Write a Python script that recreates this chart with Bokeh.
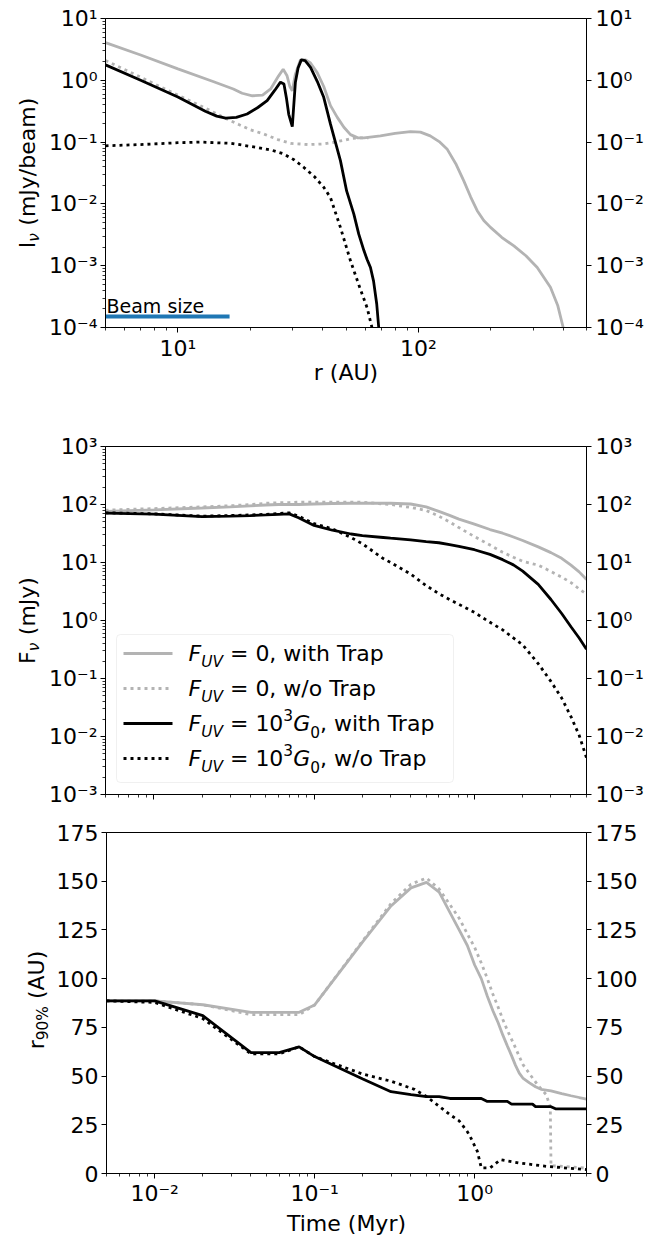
import numpy as np
from bokeh.plotting import figure
from bokeh.models import (Range1d, FixedTicker, LogAxis, LinearAxis, Label, BoxAnnotation,
                          CustomJSTickFormatter)
from bokeh.layouts import column, row
from bokeh.embed import file_html
from bokeh.resources import INLINE

FONT = "DejaVu Sans"
GRAY = "#b3b3b3"
BLUE = "#1f77b4"
LW = 2.8
DOT = "3 4"
NB = "\u00a0"

# ---------------- Panel 1: intensity profiles (r in AU, I in mJy/beam) ----------------
r_f0_trap = [5, 7, 10, 14, 17, 18.5, 20.4, 22.5, 24.3, 26.2, 27.4, 28.4, 29.2, 29.9, 30.8,
             32.3, 34.0, 35.6, 38.0, 40.4, 43.1, 46, 49, 52.2, 56, 59.4, 69.5, 80, 92.7, 102,
             112, 122, 131.5, 143, 154.6, 165, 175.6, 187, 199.5, 222, 249.5, 280, 312, 354,
             380, 400, 420]
I_f0_trap = [4.07, 2.57, 1.53, 0.955, 0.724, 0.617, 0.562, 0.575, 0.724, 1.17, 1.51, 1.20,
             0.794, 0.676, 1.26, 2.14, 2.14, 1.91, 1.32, 0.794, 0.389, 0.251, 0.174, 0.132,
             0.117, 0.117, 0.126, 0.138, 0.148, 0.145, 0.126, 0.102, 0.0776, 0.0447, 0.0234,
             0.0129, 0.00776, 0.00537, 0.00417, 0.00288, 0.00209, 0.00145, 0.000933,
             0.000447, 0.000224, 0.0001, 0.00004]

r_f0_notrap = [5, 7, 10, 13, 15.5, 18, 20, 22.8, 26, 29.4, 35, 40.4, 45, 49, 53, 58, 62]
I_f0_notrap = [2.09, 1.12, 0.575, 0.355, 0.251, 0.191, 0.158, 0.135, 0.110, 0.0955, 0.0912,
               0.0933, 0.1, 0.107, 0.115, 0.117, 0.117]

r_fuv_trap = [5, 7, 10, 13, 14.5, 15.8, 17.5, 19.4, 21.5, 23.5, 25.3, 26.7, 27.6, 28.3, 28.9,
              29.9, 30.8, 31.6, 32.6, 33.8, 35.6, 38, 40.4, 43.1, 47.4, 50.3, 53.9, 56.5,
              59.4, 61.2, 63.2, 65.1, 67.1, 68.4, 70]
I_fuv_trap = [1.78, 1.0, 0.537, 0.316, 0.263, 0.245, 0.251, 0.285, 0.363, 0.468, 0.692,
              0.933, 0.871, 0.501, 0.282, 0.178, 0.933, 1.585, 2.14, 2.09, 1.62, 0.955,
              0.531, 0.195, 0.0501, 0.0162, 0.00684, 0.00324, 0.00174, 0.00126, 0.000933,
              0.000562, 0.00024, 0.0001, 0.0000316]

r_fuv_notrap = [5, 7, 10, 12.4, 16.6, 21.4, 24.5, 27.5, 30.5, 33.4, 37, 40.4, 43.1, 47.4,
                52.2, 57, 61.2, 64.1, 66]
I_fuv_notrap = [0.0871, 0.0912, 0.0977, 0.1, 0.0955, 0.082, 0.0741, 0.0646, 0.0513, 0.0389,
                0.0275, 0.0186, 0.0126, 0.00417, 0.0012, 0.000447, 0.000209, 0.0001, 0.00005]

beam_r = [5.0, 16.4]
beam_I = [1.5e-4, 1.5e-4]

# ---------------- Panel 2: flux vs time (Myr, mJy) ----------------
t_flux = [0.005, 0.01, 0.02, 0.03, 0.04, 0.05, 0.06, 0.07, 0.08, 0.1, 0.13, 0.17, 0.2, 0.27,
          0.3, 0.4, 0.5, 0.6, 0.7, 0.8, 1.0, 1.25, 1.5, 1.75, 2.0, 2.5, 3.0, 3.5, 4.0, 4.5,
          5.0]
F_f0_trap = [76, 81, 87, 91, 95, 98, 100, 100, 100, 102, 104, 105, 105, 105, 105, 102, 91,
             76, 65, 56, 46, 37, 32, 27.5, 24, 18.6, 14.8, 11.8, 9.0, 6.9, 5.1]
F_f0_notrap = [80, 85, 91, 95, 100, 105, 107, 108, 110, 110, 110, 110, 110, 102, 100, 89, 79,
               63, 50, 40, 28, 20, 15, 12.3, 10.5, 9.0, 7.0, 5.6, 4.5, 3.5, 2.85]
F_fuv_trap = [71, 68, 62, 63, 64.5, 66, 67.6, 69, 59, 43.6, 36, 31, 29, 27, 26.3, 24.5, 23,
              21.9, 20.4, 19, 16.6, 13.8, 11.2, 9.1, 7.1, 4.2, 2.3, 1.32, 0.78, 0.50, 0.32]
F_fuv_notrap = [72, 69, 63, 64.5, 66, 67.6, 70, 71.6, 63, 46.8, 38, 27, 21, 11.7, 10, 6.3,
                4.0, 2.9, 2.3, 1.9, 1.38, 0.93, 0.69, 0.50, 0.38, 0.18, 0.089, 0.046, 0.022,
                0.0105, 0.0043]

# ---------------- Panel 3: r90% vs time (Myr, AU) ----------------
t_r90_f0_trap = [0.005, 0.01, 0.02, 0.04, 0.08, 0.1, 0.2, 0.3, 0.4, 0.5, 0.6, 0.7, 0.8, 0.9,
                 1.0, 1.1, 1.2, 1.3, 1.4, 1.5, 1.6, 1.7, 1.8, 1.9, 2.0, 2.2, 2.4, 2.6, 3.0,
                 3.5, 4.0, 4.5, 5.0]
r90_f0_trap = [88.6, 88.6, 86.6, 82.7, 82.7, 86.5, 119, 137.3, 146.6, 149.4, 144.4, 134, 125,
               117, 107, 100, 91, 83.5, 77.5, 71, 65.5, 60.5, 55.5, 51.5, 49, 46.5, 44.5,
               43.2, 42.4, 41, 39.9, 39, 38.2]

t_r90_f0_notrap = [0.005, 0.01, 0.02, 0.04, 0.08, 0.1, 0.2, 0.3, 0.4, 0.5, 0.6, 0.7, 0.8,
                   0.9, 1.0, 1.1, 1.2, 1.3, 1.4, 1.5, 1.6, 1.75, 2.0, 2.26, 2.5, 2.8, 2.97,
                   3.0, 4.0, 5.0]
r90_f0_notrap = [88.6, 88.6, 86.6, 81.5, 81.5, 86.5, 119.5, 138.5, 148.5, 151.6, 146, 138,
                 131, 123, 116, 108, 100, 92, 85.5, 79, 73.5, 66.7, 56, 49.9, 45, 40.5, 34,
                 4.0, 3.4, 2.7]

t_r90_fuv_trap = [0.005, 0.01, 0.02, 0.04, 0.06, 0.08, 0.1, 0.2, 0.3, 0.4, 0.5, 0.6, 0.7,
                  1.1, 1.2, 1.6, 1.7, 2.3, 2.4, 3.0, 3.2, 5.0]
r90_fuv_trap = [88.6, 88.6, 81, 62, 62, 65, 60, 48.5, 42, 40.5, 39.5, 39.5, 38.5, 38.5, 37,
                37, 35.6, 35.6, 34.3, 34.3, 33.2, 33.2]

t_r90_fuv_notrap = [0.005, 0.01, 0.02, 0.04, 0.06, 0.08, 0.1, 0.2, 0.3, 0.42, 0.5, 0.6, 0.7,
                    0.8, 0.9, 0.95, 1.04, 1.1, 1.25, 1.45, 1.9, 2.86, 5.0]
r90_fuv_notrap = [88.6, 87.8, 79.5, 61.4, 61.4, 65, 60, 51, 47.4, 43.2, 39.5, 34.5, 30.2,
                  27, 21.5, 18, 11.3, 2.9, 2.9, 7.1, 5.4, 3.6, 2.0]

# legend entries: pieces of (text, style, role)
legend_rows = [
    [("F", "italic", "n"), ("UV", "italic", "sub"), (" = 0, with Trap", "normal", "n")],
    [("F", "italic", "n"), ("UV", "italic", "sub"), (" = 0, w/o Trap", "normal", "n")],
    [("F", "italic", "n"), ("UV", "italic", "sub"), (" = 10", "normal", "n"),
     ("3", "normal", "sup"), ("G", "italic", "n"), ("0", "normal", "sub"),
     (", with Trap", "normal", "n")],
    [("F", "italic", "n"), ("UV", "italic", "sub"), (" = 10", "normal", "n"),
     ("3", "normal", "sup"), ("G", "italic", "n"), ("0", "normal", "sub"),
     (", w/o Trap", "normal", "n")],
]
legend_styles = [(GRAY, None), (GRAY, DOT), ("black", None), ("black", DOT)]

ylabel_1 = [("I", "normal", "n"), ("\u03bd", "italic", "sub"), (" (mJy/beam)", "normal", "n")]
ylabel_2 = [("F", "normal", "n"), ("\u03bd", "italic", "sub"), (" (mJy)", "normal", "n")]
ylabel_3 = [("r", "normal", "n"), ("90%", "normal", "sub"), (" (AU)", "normal", "n")]

# ---------------- helpers ----------------
EM = {" ": 0.318, "(": 0.390, ")": 0.390, "/": 0.337, "%": 0.950, ",": 0.318, "=": 0.838,
      "-": 0.361, "A": 0.684, "B": 0.686, "F": 0.575, "G": 0.775, "I": 0.295, "J": 0.295,
      "M": 0.863, "T": 0.611, "U": 0.732, "V": 0.684, "a": 0.613, "b": 0.635, "e": 0.615,
      "h": 0.634, "i": 0.278, "m": 0.974, "o": 0.612, "p": 0.635, "r": 0.411, "s": 0.521,
      "t": 0.392, "w": 0.818, "y": 0.592, "z": 0.525, "\u03bd": 0.592}
for d in "0123456789":
    EM[d] = 0.636

FS = 22.0
SUBFS = 0.7 * FS
BASE_FIX = 0.36   # empirical baseline correction (fraction of font size)


def text_w(s, size):
    return sum(EM.get(c, 0.6) for c in s) * size


def piece_size(role):
    return FS if role == "n" else SUBFS


def add_hlabel(p, pieces, x0, y_base, sub=6.0, sup=11.0):
    x = x0
    for txt, style, role in pieces:
        size = piece_size(role)
        dy = -sub if role == "sub" else (sup if role == "sup" else 0)
        p.add_layout(Label(x=x, y=y_base + dy + BASE_FIX * size, x_units="screen",
                           y_units="screen", text=txt.replace(" ", NB), text_font=FONT,
                           text_font_size=f"{size:.1f}px", text_font_style=style,
                           text_align="left", text_baseline="alphabetic", text_color="black"))
        x += text_w(txt, size)


def add_vlabel(p, pieces, x_base, y_center, sub=4.5):
    total = sum(text_w(t, piece_size(r)) for t, _, r in pieces)
    y = y_center - total / 2
    for txt, style, role in pieces:
        size = piece_size(role)
        dx = sub if role == "sub" else 0
        p.add_layout(Label(x=x_base + dx - BASE_FIX * size, y=y, x_units="screen",
                           y_units="screen", text=txt.replace(" ", NB), text_font=FONT,
                           text_font_size=f"{size:.1f}px", text_font_style=style,
                           angle=np.pi / 2, text_align="left", text_baseline="alphabetic",
                           text_color="black"))
        y += text_w(txt, size)


SUPFMT = CustomJSTickFormatter(code="""
const m = {"-":"\u207b","0":"\u2070","1":"\u00b9","2":"\u00b2","3":"\u00b3","4":"\u2074",
           "5":"\u2075","6":"\u2076","7":"\u2077","8":"\u2078","9":"\u2079"};
const e = Math.round(Math.log10(tick));
let s = "";
for (const c of String(e)) { s += m[c]; }
return "10" + s;
""")


def log_ticks(lo_exp, hi_exp, lo, hi):
    majors = [10.0 ** e for e in range(lo_exp, hi_exp + 1) if lo <= 10.0 ** e <= hi]
    minors = []
    for e in range(lo_exp - 1, hi_exp + 1):
        for k in range(2, 10):
            v = k * 10.0 ** e
            if lo <= v <= hi:
                minors.append(v)
    return majors, minors


def style_axis(ax, labels=True):
    ax.axis_line_color = "black"
    ax.axis_line_width = 1
    ax.major_tick_line_color = "black"
    ax.major_tick_line_width = 1
    ax.minor_tick_line_color = "black"
    ax.minor_tick_line_width = 0.8
    ax.major_tick_in = 0
    ax.major_tick_out = 5
    ax.minor_tick_in = 0
    ax.minor_tick_out = 3
    ax.major_label_text_font = FONT
    if labels:
        ax.major_label_text_font_size = f"{FS}px"
        ax.major_label_text_color = "black"
        ax.major_label_standoff = 3
    else:
        ax.major_label_text_font_size = "1px"
        ax.major_label_text_color = None
        ax.major_label_standoff = 0
    ax.axis_label_text_font = FONT
    ax.axis_label_text_font_size = f"{FS}px"
    ax.axis_label_text_font_style = "normal"
    ax.axis_label_text_color = "black"


def base_fig(width, height, left, top, bottom, xr, yr, ylog):
    p = figure(width=width, height=height, x_axis_type="log",
               y_axis_type="log" if ylog else "linear", x_range=xr, y_range=yr,
               output_backend="svg", toolbar_location=None,
               min_border_left=left, min_border_right=84, min_border_top=top,
               min_border_bottom=bottom)
    p.grid.visible = False
    p.outline_line_color = "black"
    p.outline_line_width = 1
    p.outline_line_alpha = 1
    p.background_fill_color = "white"
    p.border_fill_color = "white"
    return p


def label_fig(width, height, pieces, x_base, frame_h):
    # frames in a row are aligned with the neighbouring plot's frame
    q = figure(width=width, height=height, output_backend="svg", toolbar_location=None,
               x_axis_location=None, y_axis_location=None, min_border=0,
               x_range=Range1d(0, 1), y_range=Range1d(0, 1))
    q.grid.visible = False
    q.outline_line_color = None
    q.background_fill_color = "white"
    q.border_fill_color = "white"
    add_vlabel(q, pieces, x_base, frame_h / 2)
    return q


def add_right(p, ylog, ticks):
    ax = LogAxis() if ylog else LinearAxis()
    ax.ticker = FixedTicker(ticks=ticks)
    if ylog:
        ax.formatter = SUPFMT
    style_axis(ax)
    ax.minor_tick_line_color = None
    ax.major_label_standoff = 4
    p.add_layout(ax, "right")


H1, H2, H3 = 426, 388, 424

# ---------------- Panel 1 ----------------
p1 = base_fig(627, H1, 62, 18, 99, Range1d(5, 500), Range1d(1e-4, 1e1), True)
xm, xn = log_ticks(0, 3, 5, 500)
ym, yn = log_ticks(-4, 1, 1e-4, 1e1)
p1.xaxis.ticker = FixedTicker(ticks=xm, minor_ticks=xn)
p1.xaxis.formatter = SUPFMT
p1.yaxis.ticker = FixedTicker(ticks=ym, minor_ticks=yn)
p1.yaxis.formatter = SUPFMT
style_axis(p1.xaxis[0])
style_axis(p1.yaxis[0])
p1.xaxis.axis_label = "r (AU)"
p1.xaxis.axis_label_standoff = -4
add_right(p1, True, ym)

p1.line(r_f0_trap, I_f0_trap, color=GRAY, line_width=LW)
p1.line(r_f0_notrap, I_f0_notrap, color=GRAY, line_width=LW, line_dash=DOT)
p1.line(r_fuv_trap, I_fuv_trap, color="black", line_width=LW)
p1.line(r_fuv_notrap, I_fuv_notrap, color="black", line_width=LW, line_dash=DOT)
p1.line(beam_r, beam_I, color=BLUE, line_width=4)
p1.add_layout(Label(x=beam_r[0], y=beam_I[0], x_offset=1, y_offset=4 + BASE_FIX * 19,
                    text="Beam" + NB + "size", text_font=FONT, text_font_size="19px",
                    text_baseline="alphabetic", text_align="left", text_color="black"))
l1 = label_fig(43, H1, ylabel_1, 35, 309)

# ---------------- Panel 2 ----------------
p2 = base_fig(627, H2, 62, 20, 20, Range1d(0.005, 5), Range1d(1e-3, 1e3), True)
tm, tn = log_ticks(-3, 1, 0.005, 5)
fm, fn = log_ticks(-3, 3, 1e-3, 1e3)
p2.xaxis.ticker = FixedTicker(ticks=tm, minor_ticks=tn)
p2.xaxis.formatter = SUPFMT
p2.yaxis.ticker = FixedTicker(ticks=fm, minor_ticks=fn)
p2.yaxis.formatter = SUPFMT
style_axis(p2.xaxis[0], labels=False)
style_axis(p2.yaxis[0])
add_right(p2, True, fm)

p2.line(t_flux, F_f0_trap, color=GRAY, line_width=LW)
p2.line(t_flux, F_f0_notrap, color=GRAY, line_width=LW, line_dash=DOT)
p2.line(t_flux, F_fuv_trap, color="black", line_width=LW)
p2.line(t_flux, F_fuv_notrap, color="black", line_width=LW, line_dash=DOT)
l2 = label_fig(43, H2, ylabel_2, 35, 348)

# legend (frame-relative pixel layout)
FW, FH2 = 481.0, 348.0
p2.add_layout(BoxAnnotation(left=11, right=348, bottom=12, top=160, left_units="screen",
                            right_units="screen", bottom_units="screen", top_units="screen",
                            fill_color="white", fill_alpha=0.8, line_color="#cccccc",
                            line_width=1, border_radius=4, level="underlay"))


def px2t(px):
    return 10 ** (np.log10(0.005) + px / FW * 3.0)


def py2f(py):
    return 10 ** (-3.0 + py / FH2 * 6.0)


row_line_y = [141, 106, 71, 36]
for (col, dash), pieces, ly in zip(legend_styles, legend_rows, row_line_y):
    kw = dict(color=col, line_width=LW)
    if dash:
        kw["line_dash"] = dash
    p2.line([px2t(18), px2t(67)], [py2f(ly), py2f(ly)], **kw)
    add_hlabel(p2, pieces, 83, ly - 8)

# ---------------- Panel 3 ----------------
p3 = base_fig(617, H3, 52, 18, 59, Range1d(0.005, 5), Range1d(0, 175), False)
p3.xaxis.ticker = FixedTicker(ticks=tm, minor_ticks=tn)
p3.xaxis.formatter = SUPFMT
rticks = [0, 25, 50, 75, 100, 125, 150, 175]
p3.yaxis.ticker = FixedTicker(ticks=rticks)
style_axis(p3.xaxis[0])
style_axis(p3.yaxis[0])
p3.yaxis.minor_tick_line_color = None
p3.xaxis.axis_label = "Time (Myr)"
p3.xaxis.axis_label_standoff = 2
p3.xaxis.major_label_standoff = 2
add_right(p3, False, rticks)

p3.line(t_r90_f0_trap, r90_f0_trap, color=GRAY, line_width=LW)
p3.line(t_r90_f0_notrap, r90_f0_notrap, color=GRAY, line_width=LW, line_dash=DOT)
p3.line(t_r90_fuv_trap, r90_fuv_trap, color="black", line_width=LW)
p3.line(t_r90_fuv_notrap, r90_fuv_notrap, color="black", line_width=LW, line_dash=DOT)
l3 = label_fig(53, H3, ylabel_3, 44, 347)

layout = column(row(l1, p1, spacing=0), row(l2, p2, spacing=0), row(l3, p3, spacing=0),
                spacing=0)
with open("out.html", "w") as f:
    f.write(file_html(layout, INLINE))
